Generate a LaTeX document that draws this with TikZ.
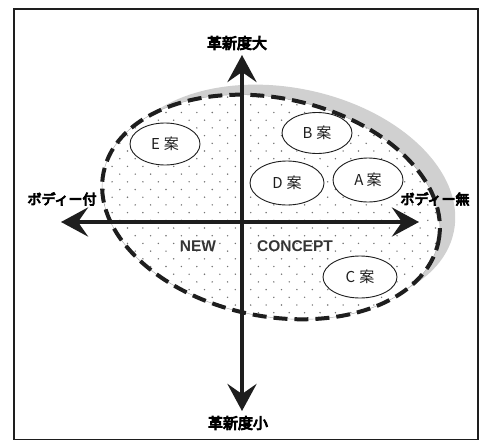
\documentclass[tikz,border=0pt]{standalone}
\usepackage{fontspec}
\setmainfont{Liberation Sans}
\newfontfamily\cjk{Noto Sans CJK JP}
\newfontfamily\cjkb{Noto Sans CJK JP}[FakeBold=6]
\usetikzlibrary{arrows.meta,shapes.geometric}
\definecolor{ink}{HTML}{1E1E1E}
\definecolor{shadowgray}{HTML}{D0D0D0}
\begin{document}
\begin{tikzpicture}[x=1pt,y=-1pt,
  axis/.style={line width=4.6pt,draw=ink,{Stealth[length=27pt,width=29pt,inset=10pt]}-{Stealth[length=27pt,width=29pt,inset=10pt]}},
  idea/.style={ellipse,draw=ink,line width=0.9pt,fill=white,inner sep=0pt,font=\cjk\fontsize{15}{15}\selectfont,text=ink},
  axlabel/.style={font=\cjkb\fontsize{15}{15}\selectfont,text=black,inner sep=0pt},
  nc/.style={font=\bfseries\fontsize{15.5}{15.5}\selectfont,text=ink!90,inner sep=0pt},
  blob/.style={rotate around={-11.8:(271,207)}}]
\useasboundingbox (0,0) rectangle (481,439);
\fill[white] (0,0) rectangle (481,439);
% frame
\draw[ink,line width=2.6pt] (14,9) rectangle (478,440);
% shadow ellipse
\fill[shadowgray,blob,xshift=13pt,yshift=13pt] (271,207) ellipse [x radius=171pt, y radius=109pt];
% dotted region
\fill[white,blob] (271,207) ellipse [x radius=171pt, y radius=109pt];
\begin{scope}
  \clip[blob] (271,207) ellipse [x radius=171pt, y radius=109pt];
  \foreach \k in {0,...,32} {
    \pgfmathsetmacro{\yy}{89.4+7.7*\k}
    \pgfmathsetmacro{\xo}{104.4+7.7*mod(\k+1,2)-15.4}
    \foreach \j in {0,...,24} {
      \fill[black!55] ({\xo+15.4*\j},\yy) circle [radius=0.8pt];
    }
  }
\end{scope}
\draw[black!35,line width=0.4pt,blob] (271,207) ellipse [x radius=171pt, y radius=109pt];
\draw[ink,line width=4pt,dash pattern=on 14pt off 7pt,blob] (271,207) ellipse [x radius=171pt, y radius=109pt];
% idea ellipses
\node[idea,minimum width=70pt,minimum height=42pt] (E) at (165,144) {E\hspace{4pt}案};
\node[idea,minimum width=70pt,minimum height=41pt] (B) at (317,133) {B\hspace{4pt}案};
\node[idea,minimum width=74pt,minimum height=44pt] (D) at (287,183) {D\hspace{4pt}案};
\node[idea,minimum width=70pt,minimum height=44pt] (A) at (368,180) {A\hspace{3pt}案};
\node[idea,minimum width=74pt,minimum height=42pt] (C) at (360,277) {C\hspace{4pt}案};
% NEW CONCEPT
\node[nc] (new) at (198,246) {NEW};
\node[nc] (concept) at (295,246) {CONCEPT};
% axes
\coordinate (top) at (242,55);
\coordinate (bot) at (242,411);
\coordinate (lft) at (61,222);
\coordinate (rgt) at (419,222);
\draw[axis] (lft) -- (rgt);
\draw[axis] (bot) -- (top);
% axis labels
\node[axlabel] (lbig) at (237,43) {革新度大};
\node[axlabel] (lsmall) at (238,423) {革新度小};
\node[axlabel,font=\cjkb\fontsize{14}{14}\selectfont] (lwith) at (62,199) {ボディー付};
\node[axlabel,font=\cjkb\fontsize{14}{14}\selectfont] (lwithout) at (435,199) {ボディー無};
\end{tikzpicture}
\end{document}
